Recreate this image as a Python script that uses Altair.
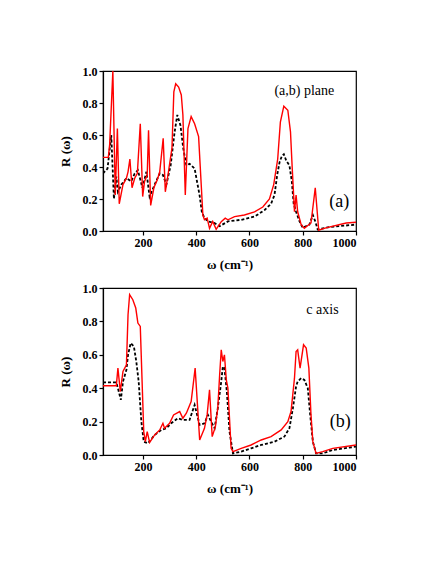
import altair as alt
import pandas as pd

# ---------------- (a,b) plane ----------------
ab_red_x = [50, 70, 75, 87, 96, 104, 111, 125, 138, 144, 151, 159, 169, 179, 190, 199, 206, 216, 221, 229,
            241, 254, 263, 276, 284, 294, 309, 316, 323, 334, 344, 350, 359, 369, 381, 394, 409, 425, 431,
            441, 450, 462, 475, 494, 509, 519, 544, 581, 619, 650, 675, 691, 706, 716, 729, 744, 754, 760,
            769, 775, 781, 794, 806, 831, 847, 860, 887, 963, 1000]
ab_red_y = [0.46, 0.46, 0.54, 1.0, 0.225, 0.64, 0.17, 0.29, 0.33, 0.37, 0.45, 0.27, 0.33, 0.36, 0.67, 0.215,
            0.31, 0.35, 0.63, 0.16, 0.27, 0.32, 0.37, 0.58, 0.245, 0.35, 0.52, 0.87, 0.92, 0.90, 0.85, 0.725,
            0.225, 0.64, 0.715, 0.67, 0.59, 0.10, 0.07, 0.08, 0.017, 0.06, 0.01, 0.058, 0.08, 0.07, 0.09,
            0.10, 0.12, 0.15, 0.20, 0.29, 0.45, 0.68, 0.78, 0.755, 0.62, 0.41, 0.12, 0.225, 0.12, 0.04,
            0.017, 0.05, 0.27, 0.005, 0.02, 0.05, 0.055]

ab_blk_x = [50, 67, 81, 91, 100, 106, 119, 138, 156, 169, 181, 198, 213, 225, 244, 263, 275, 288, 304, 319,
            329, 341, 351, 363, 375, 394, 413, 421, 431, 444, 469, 488, 519, 569, 619, 656, 681, 694, 704,
            713, 722, 729, 738, 750, 759, 766, 775, 788, 800, 825, 838, 847, 856, 900, 1000]
ab_blk_y = [0.36, 0.39, 0.60, 0.20, 0.34, 0.245, 0.29, 0.33, 0.31, 0.36, 0.38, 0.27, 0.37, 0.215, 0.29, 0.36,
            0.35, 0.29, 0.41, 0.62, 0.725, 0.66, 0.52, 0.41, 0.42, 0.39, 0.22, 0.12, 0.08, 0.06, 0.05, 0.03,
            0.06, 0.07, 0.09, 0.13, 0.17, 0.225, 0.35, 0.43, 0.47, 0.48, 0.44, 0.41, 0.31, 0.17, 0.12, 0.06,
            0.02, 0.04, 0.10, 0.06, 0.01, 0.025, 0.04]

# ---------------- c axis ----------------
c_red_x = [50, 100, 106, 115, 125, 138, 144, 150, 162, 173, 181, 190, 203, 209, 216, 225, 244, 263, 275, 281,
           300, 315, 338, 350, 363, 381, 396, 413, 431, 441, 450, 460, 472, 481, 488, 494, 500, 506, 513, 519,
           531, 538, 569, 606, 644, 681, 719, 744, 756, 769, 775, 781, 790, 803, 813, 823, 831, 838, 850,
           875, 913, 1000]
c_red_y = [0.415, 0.415, 0.52, 0.38, 0.50, 0.54, 0.84, 0.96, 0.93, 0.88, 0.79, 0.77, 0.14, 0.08, 0.14, 0.075,
           0.12, 0.15, 0.19, 0.16, 0.19, 0.24, 0.26, 0.22, 0.25, 0.32, 0.52, 0.09, 0.16, 0.24, 0.39, 0.11,
           0.17, 0.28, 0.48, 0.63, 0.56, 0.60, 0.45, 0.40, 0.04, 0.02, 0.04, 0.06, 0.09, 0.11, 0.15, 0.20,
           0.26, 0.46, 0.62, 0.63, 0.52, 0.66, 0.64, 0.52, 0.24, 0.08, 0.01, 0.02, 0.04, 0.06]

c_blk_x = [50, 100, 106, 117, 125, 138, 144, 154, 166, 175, 184, 194, 203, 219, 244, 269, 288, 306, 331, 350,
           375, 394, 413, 431, 444, 456, 469, 481, 494, 500, 506, 515, 525, 538, 569, 606, 644, 694, 731,
           750, 763, 775, 781, 794, 806, 819, 828, 838, 850, 875, 913, 1000]
c_blk_y = [0.435, 0.435, 0.40, 0.33, 0.44, 0.51, 0.60, 0.67, 0.65, 0.56, 0.44, 0.20, 0.08, 0.07, 0.12, 0.15,
           0.16, 0.19, 0.22, 0.21, 0.21, 0.30, 0.18, 0.19, 0.24, 0.20, 0.16, 0.28, 0.44, 0.53, 0.52, 0.38,
           0.14, 0.01, 0.02, 0.04, 0.06, 0.08, 0.11, 0.16, 0.28, 0.41, 0.44, 0.46, 0.45, 0.40, 0.24, 0.08,
           0.01, 0.01, 0.03, 0.05]

x_ticks = [200, 400, 600, 800, 1000]
y_ticks = [0.0, 0.2, 0.4, 0.6, 0.8, 1.0]

FONT = "Liberation Serif"


def panel(rx, ry, bx, by, label, lx, ly, letter, tx, ty, h):
    xs = alt.X("x:Q", scale=alt.Scale(domain=[50, 1000], nice=False, zero=False),
               axis=alt.Axis(values=x_ticks, title="ω (cm⁻¹)", format="d", labelOverlap=False,
                             titlePadding=10))
    ys = alt.Y("y:Q", scale=alt.Scale(domain=[0, 1], nice=False),
               axis=alt.Axis(values=y_ticks, format=".1f", title="R (ω)", labelOverlap=False,
                             titlePadding=10))
    red = alt.Chart(pd.DataFrame({"x": rx, "y": ry})).mark_line(
        color="#ff0000", strokeWidth=1.4, clip=True).encode(x=xs, y=ys)
    blk = alt.Chart(pd.DataFrame({"x": bx, "y": by})).mark_line(
        color="black", strokeWidth=1.8, strokeDash=[3, 2], clip=True).encode(x=xs, y=ys)
    t1 = alt.Chart(pd.DataFrame({"x": [lx], "y": [ly], "t": [label]})).mark_text(
        font=FONT, fontSize=14, color="black").encode(x=xs, y=ys, text="t:N")
    t2 = alt.Chart(pd.DataFrame({"x": [tx], "y": [ty], "t": [letter]})).mark_text(
        font=FONT, fontSize=18, color="black").encode(x=xs, y=ys, text="t:N")
    return alt.layer(blk, red, t1, t2).properties(width=253, height=h)


top = panel(ab_red_x, ab_red_y, ab_blk_x, ab_blk_y, "(a,b) plane", 806, 0.875, "(a)", 937, 0.18, 160)
bot = panel(c_red_x, c_red_y, c_blk_x, c_blk_y, "c axis", 874, 0.87, "(b)", 941, 0.20, 167)

chart = alt.vconcat(top, bot, spacing=9).properties(
    padding={"left": 50, "top": 56, "right": 5, "bottom": 5},
    background="white"
).configure_view(stroke="black", strokeWidth=1.2).configure_axis(
    grid=False, domainColor="black", tickColor="black", tickSize=4, labelPadding=2,
    labelFont=FONT, labelFontWeight="bold", labelFontSize=12, labelColor="black",
    titleFont=FONT, titleFontWeight="bold", titleFontSize=13, titleColor="black",
    domainWidth=1.2, tickWidth=1.2
)

chart.save("out.html", embed_options={"renderer": "svg", "actions": False})
